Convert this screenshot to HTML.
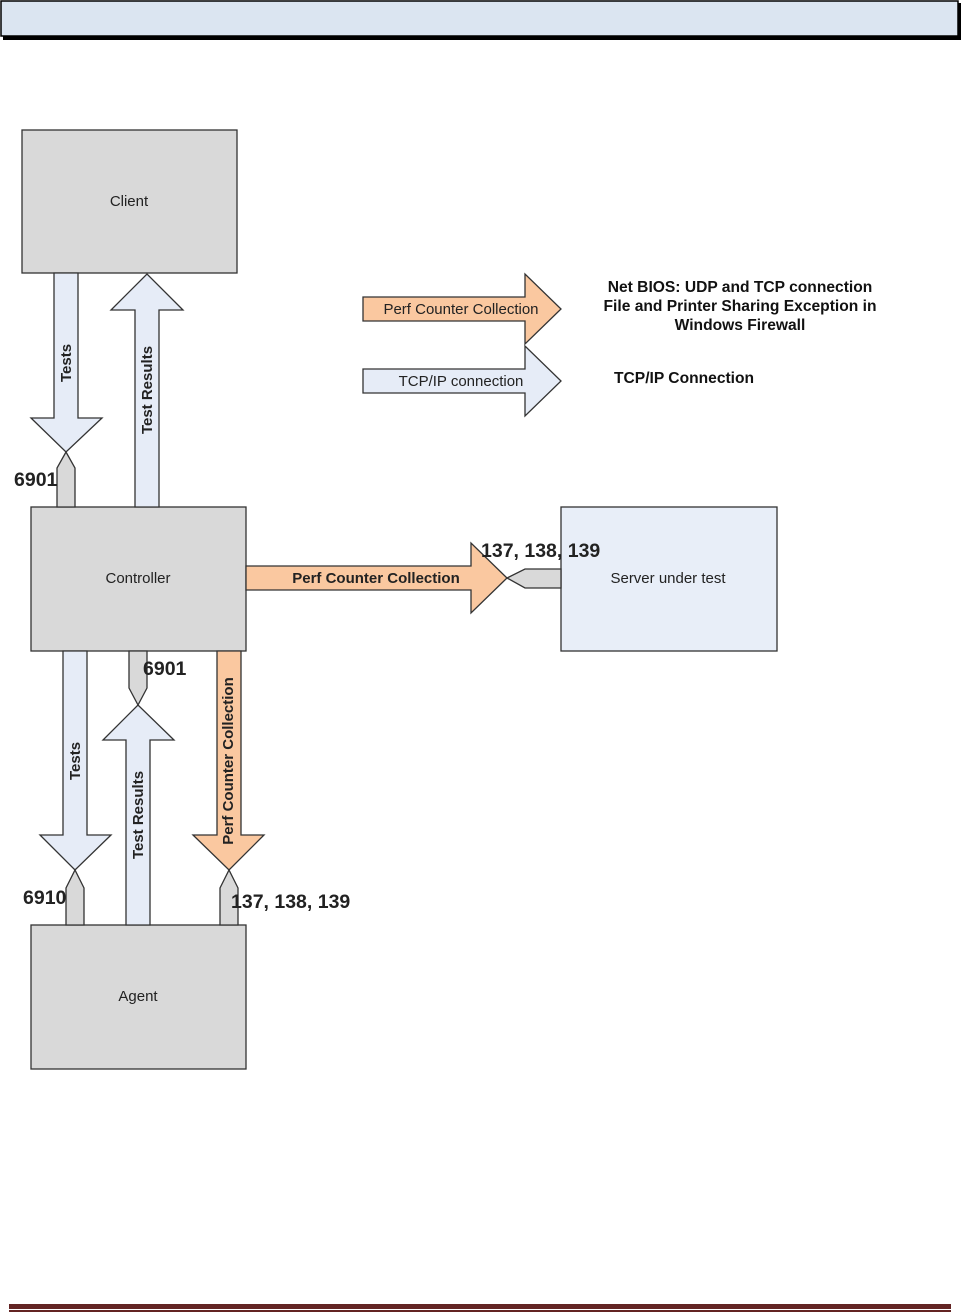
<!DOCTYPE html>
<html><head><meta charset="utf-8"><style>
html,body{margin:0;padding:0;background:#fff;}
body{width:961px;height:1313px;position:relative;overflow:hidden;font-family:"Liberation Sans",sans-serif;}
</style></head><body>
<svg width="961" height="1313" viewBox="0 0 961 1313" xmlns="http://www.w3.org/2000/svg" style="position:absolute;left:0;top:0">
<rect x="3" y="3" width="958" height="37" fill="#000"/>
<rect x="1" y="1" width="957" height="35" fill="#dbe5f1" stroke="#000" stroke-width="1.5"/>
<rect x="9" y="1304" width="942" height="5" fill="#632423"/>
<rect x="9" y="1310" width="942" height="2" fill="#632423"/>
<g stroke="#333" stroke-width="1.3" font-family="Liberation Sans, sans-serif">
<rect x="22" y="130" width="215" height="143" fill="#d9d9d9"/>
<rect x="31" y="507" width="215" height="144" fill="#d9d9d9"/>
<rect x="31" y="925" width="215" height="144" fill="#d9d9d9"/>
<rect x="561" y="507" width="216" height="144" fill="#e8eef8"/>
<polygon points="54,273 78,273 78,418 102,418 66,452 31,418 54,418" fill="#e6ecf7"/>
<polygon points="57,507 57,468 66,452 75,468 75,507" fill="#d9d9d9"/>
<polygon points="135,507 135,310 111,310 147,274 183,310 159,310 159,507" fill="#e6ecf7"/>
<polygon points="246,566 471,566 471,543 507,578 471,613 471,590 246,590" fill="#fac8a0"/>
<polygon points="561,569 525,569 507,578 525,588 561,588" fill="#d9d9d9"/>
<polygon points="63,651 87,651 87,835 111,835 75,870 40,835 63,835" fill="#e6ecf7"/>
<polygon points="66,925 66,888 75,870 84,888 84,925" fill="#d9d9d9"/>
<polygon points="126,925 126,740 103,740 138,705 174,740 150,740 150,925" fill="#e6ecf7"/>
<polygon points="129,651 147,651 147,688 138,705 129,688" fill="#d9d9d9"/>
<polygon points="217,651 241,651 241,835 264,835 229,870 193,835 217,835" fill="#fac8a0"/>
<polygon points="220,925 220,888 229,870 238,888 238,925" fill="#d9d9d9"/>
<polygon points="363,297 525,297 525,274 561,309 525,344 525,321 363,321" fill="#fac8a0"/>
<polygon points="363,369 525,369 525,346 561,381 525,416 525,393 363,393" fill="#e6ecf7"/>
</g>
<g font-family="Liberation Sans, sans-serif" fill="#222" font-size="15">
<text x="129" y="206" text-anchor="middle">Client</text>
<text x="138" y="583" text-anchor="middle">Controller</text>
<text x="138" y="1001" text-anchor="middle">Agent</text>
<text x="668" y="583" text-anchor="middle">Server under test</text>
<text x="461" y="314" text-anchor="middle">Perf Counter Collection</text>
<text x="461" y="386" text-anchor="middle">TCP/IP connection</text>
<g font-weight="bold">
<text x="376" y="583" text-anchor="middle">Perf Counter Collection</text>
<text transform="translate(71,363) rotate(-90)" text-anchor="middle">Tests</text>
<text transform="translate(152,390) rotate(-90)" text-anchor="middle">Test Results</text>
<text transform="translate(80,761) rotate(-90)" text-anchor="middle">Tests</text>
<text transform="translate(143,815) rotate(-90)" text-anchor="middle">Test Results</text>
<text transform="translate(233,761) rotate(-90)" text-anchor="middle">Perf Counter Collection</text>
</g>
<g font-weight="bold" font-size="19.5" fill="#222">
<text x="14" y="486">6901</text>
<text x="143" y="675">6901</text>
<text x="23" y="904">6910</text>
<text x="231" y="908">137, 138, 139</text>
<text x="481" y="557">137, 138, 139</text>
</g>
<g font-weight="bold" font-size="15.6" fill="#111">
<text x="740" y="292" text-anchor="middle">Net BIOS: UDP and TCP connection</text>
<text x="740" y="311" text-anchor="middle">File and Printer Sharing Exception in</text>
<text x="740" y="330" text-anchor="middle">Windows Firewall</text>
<text x="614" y="383">TCP/IP Connection</text>
</g>
</g>
</svg>
</body></html>
